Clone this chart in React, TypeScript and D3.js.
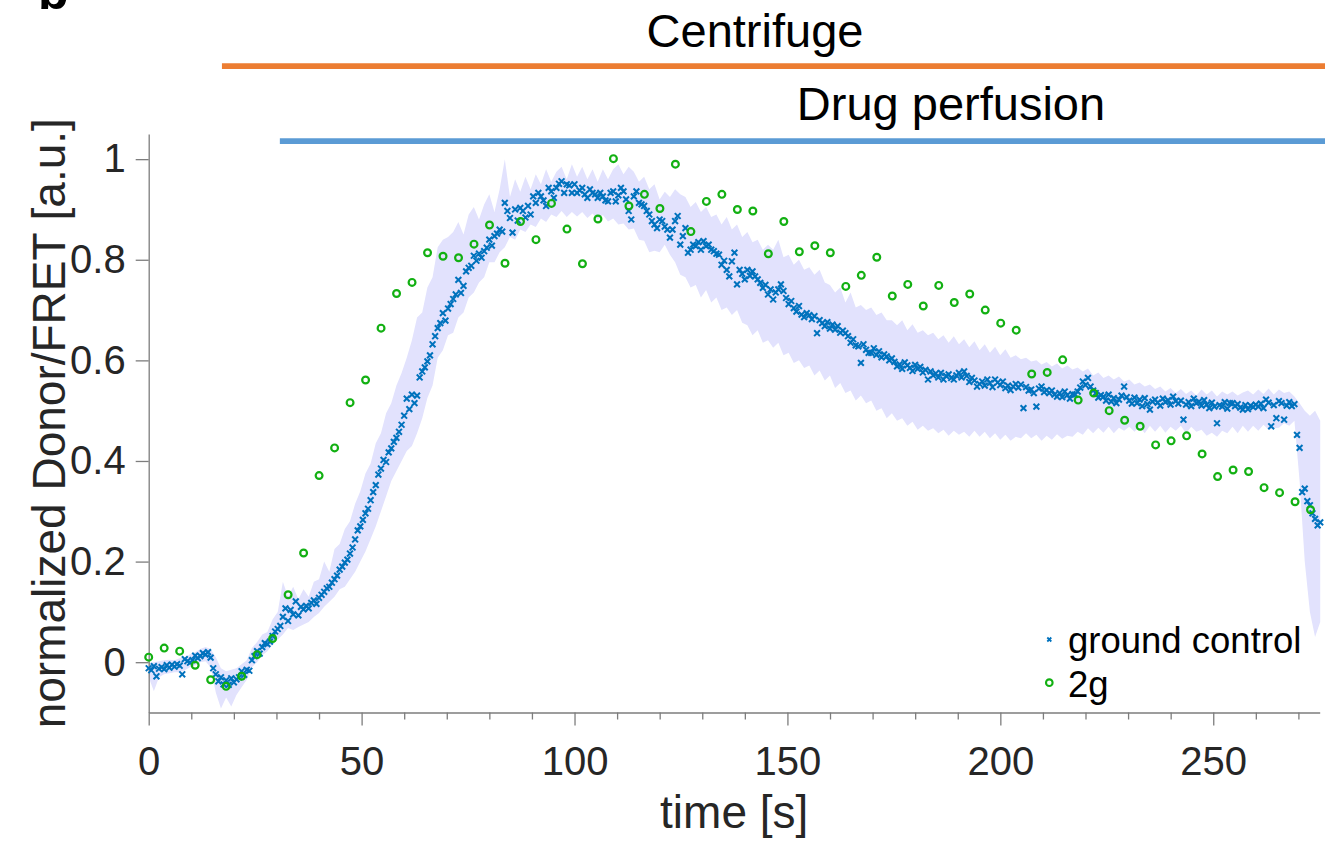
import { useEffect, useRef } from "react";
import * as d3 from "d3";

// sampling intervals (s)
const gcStep = 0.606;
const g2Step = 3.638;
const bandStep = 1.212;

// normalized Donor/FRET, ground control (mean)
const groundControl = [
  -0.012, -0.016, -0.008, -0.028, -0.013, -0.01, -0.014, -0.006, -0.011, -0.005,
  -0.009, -0.004, -0.007, -0.024, 0.006, 0.002, -0.001, 0.004, 0.013, 0.008,
  0.012, 0.018, 0.015, 0.02, 0.009, -0.012, -0.024, -0.038, -0.03, -0.044,
  -0.036, -0.045, -0.032, -0.04, -0.034, -0.03, -0.018, -0.025, -0.015, -0.017,
  0.004, 0.012, 0.022, 0.017, 0.03, 0.038, 0.036, 0.041, 0.052, 0.061,
  0.066, 0.072, 0.09, 0.107, 0.082, 0.104, 0.095, 0.121, 0.093, 0.11,
  0.105, 0.112, 0.107, 0.118, 0.123, 0.116, 0.128, 0.134, 0.14, 0.147,
  0.15, 0.158, 0.165, 0.172, 0.184, 0.19, 0.198, 0.204, 0.216, 0.228,
  0.244, 0.262, 0.27, 0.283, 0.296, 0.305, 0.322, 0.338, 0.352, 0.373,
  0.385, 0.402, 0.398, 0.417, 0.425, 0.438, 0.446, 0.458, 0.472, 0.49,
  0.524, 0.503, 0.532, 0.515, 0.53, 0.566, 0.578, 0.586, 0.598, 0.61,
  0.632, 0.648, 0.664, 0.674, 0.694, 0.679, 0.703, 0.712, 0.722, 0.731,
  0.76, 0.734, 0.748, 0.777, 0.784, 0.788, 0.808, 0.798, 0.812, 0.804,
  0.817, 0.824, 0.84, 0.828, 0.847, 0.852, 0.86, 0.856, 0.913, 0.897,
  0.883, 0.854, 0.9, 0.878, 0.903, 0.897, 0.884, 0.907, 0.89, 0.926,
  0.913, 0.933, 0.926, 0.918, 0.907, 0.943, 0.936, 0.923, 0.943, 0.951,
  0.956, 0.933, 0.95, 0.948, 0.933, 0.95, 0.933, 0.938, 0.943, 0.93,
  0.923, 0.94, 0.933, 0.93, 0.923, 0.933, 0.926, 0.918, 0.916, 0.933,
  0.936, 0.916, 0.928, 0.943, 0.936, 0.92, 0.897, 0.88, 0.926, 0.936,
  0.913, 0.91, 0.907, 0.897, 0.89, 0.877, 0.87, 0.863, 0.88, 0.877,
  0.866, 0.86, 0.844, 0.86, 0.877, 0.887, 0.83, 0.847, 0.863, 0.814,
  0.82, 0.83, 0.827, 0.835, 0.82, 0.837, 0.827, 0.83, 0.82, 0.817,
  0.812, 0.81, 0.79, 0.798, 0.78, 0.767, 0.797, 0.814, 0.751, 0.78,
  0.772, 0.761, 0.78, 0.768, 0.777, 0.767, 0.761, 0.754, 0.744, 0.75,
  0.731, 0.741, 0.721, 0.735, 0.741, 0.751, 0.738, 0.724, 0.712, 0.718,
  0.704, 0.697, 0.708, 0.691, 0.686, 0.694, 0.69, 0.682, 0.688, 0.654,
  0.68, 0.674, 0.668, 0.676, 0.663, 0.671, 0.661, 0.668, 0.655, 0.659,
  0.654, 0.648, 0.635, 0.642, 0.63, 0.628, 0.595, 0.632, 0.621, 0.615,
  0.615, 0.624, 0.611, 0.618, 0.606, 0.612, 0.608, 0.6, 0.604, 0.597,
  0.588, 0.592, 0.583, 0.596, 0.59, 0.585, 0.579, 0.591, 0.583, 0.587,
  0.576, 0.581, 0.562, 0.578, 0.57, 0.574, 0.566, 0.575, 0.562, 0.569,
  0.572, 0.565, 0.562, 0.57, 0.575, 0.566, 0.578, 0.569, 0.557, 0.565,
  0.56, 0.548, 0.553, 0.558, 0.55, 0.562, 0.555, 0.547, 0.562, 0.556,
  0.551, 0.558, 0.545, 0.55, 0.541, 0.548, 0.553, 0.546, 0.552, 0.505,
  0.547, 0.54, 0.542, 0.535, 0.508, 0.544, 0.548, 0.537, 0.541, 0.535,
  0.54, 0.532, 0.528, 0.535, 0.527, 0.538, 0.531, 0.524, 0.533, 0.532,
  0.538, 0.546, 0.558, 0.551, 0.565, 0.548, 0.54, 0.535, 0.526, 0.531,
  0.528, 0.52, 0.532, 0.518, 0.525, 0.515, 0.522, 0.53, 0.548, 0.527,
  0.52, 0.514, 0.526, 0.515, 0.522, 0.509, 0.525, 0.513, 0.502, 0.518,
  0.522, 0.516, 0.51, 0.524, 0.517, 0.521, 0.512, 0.528, 0.519, 0.514,
  0.52, 0.482, 0.512, 0.517, 0.509, 0.524, 0.515, 0.518, 0.51, 0.521,
  0.512, 0.505, 0.516, 0.508, 0.475, 0.511, 0.508, 0.517, 0.504, 0.515,
  0.515, 0.509, 0.513, 0.506, 0.502, 0.511, 0.503, 0.51, 0.507, 0.512,
  0.508, 0.514, 0.505, 0.522, 0.516, 0.469, 0.511, 0.485, 0.519, 0.515,
  0.482, 0.51, 0.517, 0.509, 0.513, 0.452, 0.426, 0.338, 0.345, 0.32,
  0.312, 0.296, 0.285, 0.272, 0.278,
];

// shaded spread around ground control
const bandUpper = [
  -0.002, 0.0, 0.002, 0.004, 0.005, 0.004, 0.008, 0.01, 0.016, 0.02,
  0.026, 0.03, 0.026, 0.01, -0.012, -0.018, -0.015, -0.012, -0.004, 0.004,
  0.028, 0.04, 0.055, 0.06, 0.085, 0.1, 0.16, 0.13, 0.15, 0.125,
  0.145, 0.13, 0.16, 0.165, 0.2, 0.18, 0.225, 0.235, 0.265, 0.28,
  0.315, 0.34, 0.375, 0.395, 0.435, 0.455, 0.495, 0.515, 0.55, 0.575,
  0.605, 0.64, 0.685, 0.695, 0.745, 0.765, 0.825, 0.84, 0.845, 0.855,
  0.875, 0.85, 0.89, 0.905, 0.88, 0.91, 0.93, 0.895, 0.94, 1.0,
  0.925, 0.96, 0.935, 0.965, 0.94, 0.97, 0.95, 0.98, 0.955, 0.975,
  0.985, 0.96, 0.99, 0.965, 0.985, 0.96, 0.98, 0.955, 0.98, 0.96,
  0.98, 0.99, 0.97, 0.985, 0.975, 0.955, 0.965, 0.94, 0.95, 0.92,
  0.935, 0.925, 0.94, 0.93, 0.925, 0.905, 0.915, 0.895, 0.905, 0.885,
  0.89, 0.87, 0.885, 0.86, 0.87, 0.845, 0.855, 0.835, 0.84, 0.82,
  0.83, 0.82, 0.84, 0.805, 0.81, 0.79, 0.8, 0.78, 0.785, 0.77,
  0.78, 0.755, 0.75, 0.735, 0.745, 0.715, 0.735, 0.705, 0.71, 0.7,
  0.705, 0.69, 0.695, 0.68, 0.68, 0.67, 0.68, 0.66, 0.672, 0.655,
  0.66, 0.65, 0.655, 0.642, 0.65, 0.635, 0.648, 0.632, 0.642, 0.626,
  0.638, 0.62, 0.632, 0.615, 0.627, 0.61, 0.622, 0.605, 0.61, 0.602,
  0.605, 0.598, 0.6, 0.592, 0.597, 0.588, 0.594, 0.584, 0.59, 0.582,
  0.586, 0.578, 0.584, 0.57, 0.576, 0.565, 0.57, 0.562, 0.568, 0.558,
  0.562, 0.552, 0.556, 0.548, 0.552, 0.543, 0.548, 0.538, 0.545, 0.535,
  0.543, 0.533, 0.54, 0.53, 0.542, 0.532, 0.54, 0.528, 0.538, 0.532,
  0.538, 0.53, 0.536, 0.54, 0.532, 0.542, 0.533, 0.544, 0.532, 0.542,
  0.535, 0.538, 0.528, 0.515, 0.5, 0.49, 0.5, 0.48,
];
const bandLower = [
  -0.03, -0.058, -0.03, -0.024, -0.022, -0.02, -0.02, -0.016, -0.01, -0.006,
  0.0, 0.002, -0.01, -0.06, -0.092, -0.07, -0.088, -0.065, -0.05, -0.035,
  -0.01, 0.0, 0.014, 0.022, 0.035, 0.045, 0.055, 0.068, 0.064, 0.07,
  0.075, 0.08, 0.09, 0.098, 0.11, 0.12, 0.13, 0.145, 0.15, 0.165,
  0.18, 0.2, 0.22, 0.245, 0.27, 0.3, 0.33, 0.36, 0.38, 0.4,
  0.42, 0.43, 0.455, 0.485, 0.525, 0.55, 0.605, 0.62, 0.65, 0.655,
  0.685, 0.695, 0.725, 0.735, 0.755, 0.765, 0.795, 0.795, 0.815, 0.825,
  0.845, 0.84, 0.86, 0.855, 0.87, 0.865, 0.882, 0.875, 0.89, 0.885,
  0.897, 0.885, 0.895, 0.886, 0.895, 0.883, 0.892, 0.88, 0.889, 0.876,
  0.882, 0.87, 0.872, 0.86, 0.862, 0.84, 0.838, 0.815, 0.818, 0.815,
  0.83, 0.81, 0.795, 0.77, 0.765, 0.745, 0.75, 0.725, 0.74, 0.715,
  0.725, 0.7, 0.705, 0.69, 0.7, 0.675, 0.67, 0.65, 0.66, 0.635,
  0.64, 0.625, 0.635, 0.61, 0.615, 0.595, 0.6, 0.585, 0.59, 0.57,
  0.58, 0.56, 0.57, 0.545, 0.555, 0.535, 0.54, 0.52, 0.53, 0.515,
  0.52, 0.5, 0.505, 0.485, 0.495, 0.48, 0.485, 0.47, 0.478, 0.462,
  0.47, 0.46, 0.465, 0.455, 0.462, 0.45, 0.46, 0.452, 0.458, 0.448,
  0.46, 0.448, 0.458, 0.445, 0.455, 0.442, 0.452, 0.44, 0.448, 0.445,
  0.455, 0.445, 0.452, 0.44, 0.45, 0.442, 0.453, 0.444, 0.45, 0.448,
  0.458, 0.452, 0.465, 0.455, 0.466, 0.456, 0.468, 0.455, 0.466, 0.46,
  0.468, 0.458, 0.468, 0.455, 0.47, 0.458, 0.47, 0.456, 0.468, 0.46,
  0.47, 0.455, 0.468, 0.458, 0.462, 0.45, 0.456, 0.448, 0.46, 0.455,
  0.468, 0.455, 0.47, 0.458, 0.47, 0.46, 0.472, 0.462, 0.465, 0.466,
  0.475, 0.47, 0.48, 0.36, 0.2, 0.1, 0.05, 0.08,
];

// normalized Donor/FRET, 2g
const twoG = [
  0.01, 0.028, 0.022, -0.006, -0.035, -0.048, -0.028, 0.015, 0.047, 0.134,
  0.217, 0.371, 0.426, 0.516, 0.561, 0.664, 0.733, 0.755, 0.814, 0.807,
  0.804, 0.831, 0.869, 0.793, 0.876, 0.84, 0.912, 0.861, 0.792, 0.881,
  1.001, 0.907, 0.93, 0.902, 0.99, 0.856, 0.916, 0.93, 0.9, 0.897,
  0.812, 0.876, 0.816, 0.828, 0.814, 0.747, 0.769, 0.805, 0.728, 0.751,
  0.708, 0.749, 0.715, 0.732, 0.7, 0.674, 0.66, 0.573, 0.576, 0.601,
  0.521, 0.535, 0.5, 0.481, 0.469, 0.432, 0.44, 0.45, 0.414, 0.369,
  0.382, 0.379, 0.347, 0.337, 0.319, 0.303,
];

const xMajorTicks = [0, 50, 100, 150, 200, 250];
const xMinorTicks = [10, 20, 30, 40, 60, 70, 80, 90, 110, 120, 130, 140, 160, 170, 180, 190, 210, 220, 230, 240, 260, 270];
const yTicks = [0, 0.2, 0.4, 0.6, 0.8, 1];
const yTickLabels = ["0", "0.2", "0.4", "0.6", "0.8", "1"];
const legendLabels = ["ground control", "2g"];
const phaseLabels = ["Centrifuge", "Drug perfusion"];
const phaseStarts = [17.2, 30.8];

const FONT = "'Liberation Sans', Arial, Helvetica, sans-serif";
const BLUE = "#0072BD";
const GREEN = "#12B012";

function App() {
  const svgRef = useRef<SVGSVGElement>(null);

  useEffect(() => {
    const width = 1325;
    const height = 841;
    const svg = d3.select(svgRef.current);
    svg.selectAll("*").remove();
    svg.attr("width", width).attr("height", height);

    const x = d3.scaleLinear().domain([0, 275]).range([148.7, 1319.7]);
    const y = d3.scaleLinear().domain([-0.1, 1.05]).range([712.5, 134]);

    // panel letter, cut off at the top like in the figure
    svg
      .append("text")
      .attr("x", 38)
      .attr("y", 9)
      .attr("font-family", FONT)
      .attr("font-weight", "bold")
      .attr("font-size", 50)
      .text("b");

    // shaded spread
    const area = d3
      .area<number>()
      .x((_, i) => x(i * bandStep))
      .y0((_, i) => y(bandLower[i]))
      .y1((d) => y(d));
    svg
      .append("path")
      .datum(bandUpper)
      .attr("fill", "#E2E2FD")
      .attr("d", area);

    // axes
    svg
      .append("g")
      .attr("transform", `translate(0,${y(-0.1)})`)
      .call(d3.axisBottom(x).tickValues(xMinorTicks).tickSize(7).tickSizeOuter(0).tickFormat(() => ""))
      .call((g) => g.select(".domain").remove());
    svg
      .append("g")
      .attr("transform", `translate(0,${y(-0.1)})`)
      .call(
        d3
          .axisBottom(x)
          .tickValues(xMajorTicks)
          .tickSize(13)
          .tickSizeOuter(0)
          .tickPadding(21)
          .tickFormat((d) => String(d))
      );
    svg
      .append("g")
      .attr("transform", `translate(${x(0)},0)`)
      .call(
        d3
          .axisLeft(y)
          .tickValues(yTicks)
          .tickSize(13)
          .tickSizeOuter(0)
          .tickPadding(10)
          .tickFormat((_, i) => yTickLabels[i])
      );
    svg.selectAll(".domain, .tick line").attr("stroke", "#7d7d7d").attr("stroke-width", 1.3);
    svg
      .selectAll(".tick text")
      .attr("font-family", FONT)
      .attr("font-size", 40)
      .attr("fill", "#262626");

    // ground control markers
    const a = 2.9;
    svg
      .append("g")
      .attr("stroke", BLUE)
      .attr("stroke-width", 2)
      .selectAll("path")
      .data(groundControl)
      .join("path")
      .attr("transform", (d, i) => `translate(${x(i * gcStep)},${y(d)})`)
      .attr("d", `M${-a},${-a}L${a},${a}M${-a},${a}L${a},${-a}`);

    // 2g markers
    svg
      .append("g")
      .attr("stroke", GREEN)
      .attr("stroke-width", 2.2)
      .attr("fill", "none")
      .selectAll("circle")
      .data(twoG)
      .join("circle")
      .attr("cx", (_, i) => x(i * g2Step))
      .attr("cy", (d) => y(d))
      .attr("r", 3.4);

    // axis labels
    svg
      .append("text")
      .attr("x", (x(0) + x(275)) / 2)
      .attr("y", 828)
      .attr("text-anchor", "middle")
      .attr("font-family", FONT)
      .attr("font-size", 46)
      .attr("fill", "#262626")
      .text("time [s]");
    svg
      .append("text")
      .attr("transform", `translate(65,${(y(-0.1) + y(1.05)) / 2}) rotate(-90)`)
      .attr("text-anchor", "middle")
      .attr("font-family", FONT)
      .attr("font-size", 46)
      .attr("fill", "#262626")
      .text("normalized Donor/FRET [a.u.]");

    // legend
    const lg = svg.append("g").attr("font-family", FONT).attr("font-size", 36.5);
    lg.append("path")
      .attr("transform", "translate(1049.3,639.5)")
      .attr("d", `M-2,-2L2,2M-2,2L2,-2`)
      .attr("stroke", BLUE)
      .attr("stroke-width", 1.8);
    lg.append("circle")
      .attr("cx", 1049.3)
      .attr("cy", 682.7)
      .attr("r", 3.3)
      .attr("fill", "none")
      .attr("stroke", GREEN)
      .attr("stroke-width", 2.1);
    lg.selectAll("text")
      .data(legendLabels)
      .join("text")
      .attr("x", 1068)
      .attr("y", (_, i) => 653 + i * 43.5)
      .attr("fill", "#000")
      .text((d) => d);

    // treatment phases
    const phaseColors = ["#EC7D32", "#5B9BD5"];
    const phaseY = [66.2, 141.2];
    const phaseTextX = [755, 951];
    const phaseTextY = [47, 120];
    phaseLabels.forEach((label, i) => {
      svg
        .append("line")
        .attr("x1", x(phaseStarts[i]))
        .attr("x2", width)
        .attr("y1", phaseY[i])
        .attr("y2", phaseY[i])
        .attr("stroke", phaseColors[i])
        .attr("stroke-width", 5.8);
      svg
        .append("text")
        .attr("x", phaseTextX[i])
        .attr("y", phaseTextY[i])
        .attr("text-anchor", "middle")
        .attr("font-family", FONT)
        .attr("font-size", 47)
        .attr("fill", "#000")
        .text(label);
    });
  }, []);

  return (
    <svg
      ref={svgRef}
      style={{ position: "absolute", left: 0, top: 0, background: "#fff" }}
    ></svg>
  );
}

export default App;
